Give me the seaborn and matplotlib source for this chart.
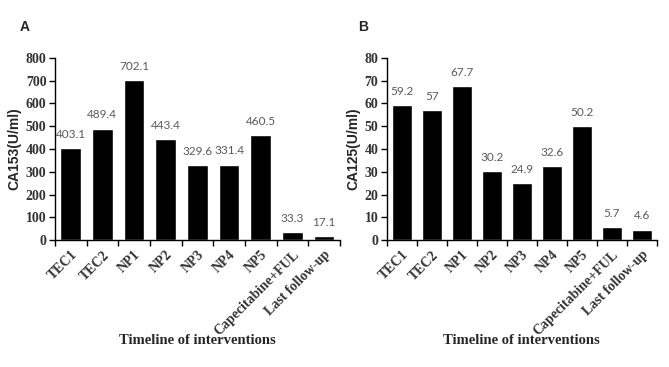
import matplotlib
matplotlib.use("Agg")
import matplotlib.pyplot as plt
import seaborn as sns
import pandas as pd
import numpy as np

# Données
categories = ["TEC1", "TEC2", "NP1", "NP2", "NP3", "NP4", "NP5",
              "Capecitabine+FUL", "Last follow-up"]
ca153 = [403.1, 489.4, 702.1, 443.4, 329.6, 331.4, 460.5, 33.3, 17.1]
ca153_labels = ["403.1", "489.4", "702.1", "443.4", "329.6", "331.4", "460.5", "33.3", "17.1"]
ca125 = [59.2, 57, 67.7, 30.2, 24.9, 32.6, 50.2, 5.7, 4.6]
ca125_labels = ["59.2", "57", "67.7", "30.2", "24.9", "32.6", "50.2", "5.7", "4.6"]

sns.set_style("white")
serif = ["Liberation Serif", "DejaVu Serif"]
sans = ["Liberation Sans", "DejaVu Sans"]
calib = ["Lato", "DejaVu Sans"]

fig = plt.figure(figsize=(6.69, 3.67), dpi=100)
axA = fig.add_axes([0.082, 0.346, 0.426, 0.496])
axB = fig.add_axes([0.578, 0.346, 0.404, 0.496])


def panel(ax, values, labels, ylabel, ymax, ystep):
    df = pd.DataFrame({"cat": categories, "val": values})
    sns.barplot(data=df, x="cat", y="val", color="black", width=0.66,
                saturation=1, ax=ax)
    ax.set_xlim(-0.5, len(categories) - 0.5)
    ax.set_ylim(0, ymax)
    ax.set_yticks(np.arange(0, ymax + ystep, ystep))
    for lab in ax.get_yticklabels():
        lab.set_fontfamily(serif)
        lab.set_fontweight("bold")
        lab.set_fontsize(10)
        lab.set_color("#333333")
    ax.set_xticks(range(len(categories)))
    ax.set_xticklabels(categories, rotation=45, ha="right",
                       rotation_mode="anchor", family=serif,
                       fontweight="bold", fontsize=10, color="#333333")
    ax.set_xticks(np.arange(-0.5, len(categories), 1), minor=True)
    ax.tick_params(axis="x", which="major", length=0, pad=6)
    ax.tick_params(axis="x", which="minor", length=4, width=1, direction="out",
                   bottom=True, color="black")
    ax.tick_params(axis="y", length=4, width=1, direction="out", left=True,
                   color="black", pad=2)
    for s in ["top", "right"]:
        ax.spines[s].set_visible(False)
    for s in ["left", "bottom"]:
        ax.spines[s].set_color("black")
        ax.spines[s].set_linewidth(1)
    for i, (v, t) in enumerate(zip(values, labels)):
        ax.text(i, v + ymax * 0.045, t, ha="center", va="bottom",
                color="#5a5a5a", fontsize=8.5, family=calib)
    ax.set_ylabel(ylabel, family=sans, fontweight="bold", fontsize=10, labelpad=3)
    ax.set_xlabel("Timeline of interventions", family=serif,
                  fontweight="bold", fontsize=10.5, va="center")
    ax.xaxis.set_label_coords(0.5, -0.55)


panel(axA, ca153, ca153_labels, "CA153(U/ml)", 800, 100)
panel(axB, ca125, ca125_labels, "CA125(U/ml)", 80, 10)

fig.text(20 / 669, 1 - 27 / 367, "A", family=sans, fontweight="bold",
         fontsize=10, va="center")
fig.text(358 / 669, 1 - 27 / 367, "B", family=sans, fontweight="bold",
         fontsize=10, va="center")

fig.savefig("out.png", dpi=100, facecolor="white")
